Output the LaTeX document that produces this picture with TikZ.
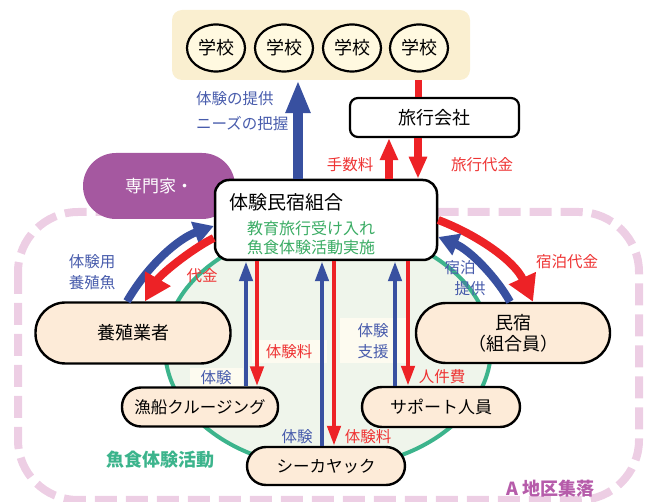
\documentclass[tikz,border=0pt]{standalone}
\usepackage{fontspec}
\setmainfont{Noto Sans CJK JP}
\usetikzlibrary{arrows.meta,shapes.geometric}
\definecolor{abl}{RGB}{56,80,160}
\definecolor{tbl}{RGB}{72,92,172}
\definecolor{ard}{RGB}{237,34,38}
\definecolor{trd}{RGB}{238,52,52}
\definecolor{tgr}{RGB}{58,172,100}
\definecolor{teal1}{RGB}{60,180,140}
\definecolor{ellfill}{RGB}{239,245,235}
\definecolor{peach}{RGB}{253,235,216}
\definecolor{purp}{RGB}{165,88,160}
\definecolor{pinkd}{RGB}{237,206,228}
\definecolor{schbg}{RGB}{250,239,208}
\definecolor{schfill}{RGB}{255,249,224}
\definecolor{apink}{RGB}{182,92,170}
\definecolor{labbg}{RGB}{253,251,240}
\tikzset{
  fA/.style={font=\fontsize{18}{21}\selectfont},
  fB/.style={font=\fontsize{16}{19}\selectfont},
  fC/.style={font=\fontsize{15.5}{21}\selectfont},
  stad/.style={draw=black, line width=2.4pt, fill=peach, inner sep=0pt},
  bluetxt/.style={fC, text=tbl, inner sep=1pt},
  redtxt/.style={fC, text=trd, inner sep=1pt},
  labbox/.style={fill=labbg, inner sep=3pt},
  vblue/.style={draw=abl, line width=4.5pt, -{Triangle[length=20pt,width=13pt]}},
  vred/.style={draw=ard, line width=4.5pt, -{Triangle[length=20pt,width=13pt]}},
  mred/.style={draw=ard, line width=8pt, -{Triangle[length=22pt,width=17pt]}},
  cblue/.style={draw=abl, line width=8pt, -{Triangle[length=20pt,width=22pt]}},
  cred/.style={draw=ard, line width=8pt, -{Triangle[length=26pt,width=28pt]}},
  school/.style={ellipse, draw=black, line width=2.2pt, fill=schfill, minimum width=58pt, minimum height=47pt, inner sep=0pt, fA}
}
\begin{document}
\begin{tikzpicture}[x=1pt,y=-1pt]
\useasboundingbox (0,0) rectangle (651,502);
% village area
\draw[pinkd, line width=8pt, dash pattern=on 22pt off 9pt, rounded corners=60pt] (18,212) rectangle (639,500);
% activity ellipse
\node[ellipse, draw=teal1, line width=4pt, fill=ellfill, minimum width=326pt, minimum height=240pt, inner sep=0pt] (ell) at (328,348) {};
\node[font=\fontsize{18}{21}\selectfont\bfseries, text=teal1] (elllab) at (160,460) {魚食体験活動};
\node[font=\fontsize{18}{21}\selectfont\bfseries, text=apink] (alab) at (550,489) {A 地区集落};
% label boxes inside ellipse
\node[labbox, redtxt, minimum width=75pt, minimum height=23pt] (l1) at (289,352) {体験料};
\node[labbox, bluetxt, minimum width=53pt, minimum height=20pt] (l2) at (216,378) {体験};
\node[labbox, bluetxt, align=center, minimum width=67pt, minimum height=45pt] (l3) at (373,341) {体験\\支援};
% schools
\node[fill=schbg, rounded corners=10pt, minimum width=298pt, minimum height=70pt, inner sep=0pt] (sbg) at (321,45) {};
\node[school] (s1) at (216,48) {学校};
\node[school] (s2) at (284,48) {学校};
\node[school] (s3) at (352,48) {学校};
\node[school] (s4) at (419,48) {学校};
% travel agency
\node[draw=black, line width=2.2pt, fill=white, rounded corners=8pt, minimum width=169pt, minimum height=39pt, fA] (ryoko) at (434.5,117.5) {旅行会社};
% expert
\node[fill=purp, rounded corners=33pt, minimum width=152pt, minimum height=66pt, text=white, font=\fontsize{17}{20}\selectfont] (senmon) at (159,186) {専門家・};
% activity nodes
\node[stad, rounded corners=30pt, minimum width=195pt, minimum height=61pt, fA] (yo) at (133,333) {養殖業者};
\node[stad, rounded corners=30pt, minimum width=194pt, minimum height=60pt, fA, align=center] (min) at (513,333) {民宿\\（組合員）};
\node[stad, rounded corners=19pt, minimum width=156pt, minimum height=39pt, font=\fontsize{16.5}{19}\selectfont] (gyo) at (200,407) {漁船クルージング};
\node[stad, rounded corners=20pt, minimum width=158pt, minimum height=40pt, font=\fontsize{17}{20}\selectfont] (sup) at (441,407) {サポート人員};
\node[stad, rounded corners=19pt, minimum width=158pt, minimum height=38pt, font=\fontsize{16.5}{19}\selectfont] (sea) at (326,466) {シーカヤック};
% central node
\node[draw=black, line width=2.5pt, fill=white, rounded corners=14pt, minimum width=222pt, minimum height=80pt, inner sep=0pt] (kum) at (326,220) {};
\node[anchor=west, font=\fontsize{19}{22}\selectfont, inner sep=0pt] (k1) at (229,202) {体験民宿組合};
\node[anchor=west, fB, text=tgr, inner sep=0pt] (k2) at (247,228) {教育旅行受け入れ};
\node[anchor=west, fB, text=tgr, inner sep=0pt] (k3) at (247,247) {魚食体験活動実施};
% vertical arrows
\draw[vblue] (gyo.north -| 246,0) -- (kum.south -| 246,0);
\draw[vred] (kum.south -| 257,0) -- (gyo.north -| 257,0);
\draw[vblue] (sea.north -| 322,0) -- (kum.south -| 322,0);
\draw[vred] (kum.south -| 334,0) -- (sea.north -| 334,0);
\draw[vblue] (sup.north -| 395,0) -- (kum.south -| 395,0);
\draw[vred] (kum.south -| 408,0) -- (sup.north -| 408,0);
% curved arrows
\draw[cblue] (yo.north -| 127,0) .. controls (150,262) and (180,238) .. (kum.west |- 0,226);
\draw[cred] (kum.west |- 0,238) .. controls (190,250) and (160,275) .. (yo.north -| 145,0);
\draw[cred] (kum.east |- 0,220) .. controls (480,236) and (515,262) .. (min.north -| 533,0);
\draw[cblue] (min.north -| 510,0) .. controls (497,278) and (470,250) .. (kum.east |- 0,237);
% upper arrows
\draw[draw=abl, line width=10pt, -{Triangle[length=33pt,width=23pt]}] (kum.north -| 298,0) -- (sbg.south -| 298,0);
\draw[draw=ard, line width=7pt] (sbg.south -| 418,0) -- (ryoko.north -| 418,0);
\draw[mred] (kum.north -| 389,0) -- (ryoko.south -| 389,0);
\draw[mred] (ryoko.south -| 418,0) -- (kum.north -| 418,0);
% labels
\node[bluetxt, anchor=west] (t1) at (195,99) {体験の提供};
\node[bluetxt, anchor=west] (t2) at (195,124) {ニーズの把握};
\node[redtxt] (t3) at (350,165) {手数料};
\node[redtxt] (t4) at (482,165) {旅行代金};
\node[bluetxt, align=center] (t5) at (92,272) {体験用\\養殖魚};
\node[redtxt] (t6) at (202,276) {代金};
\node[bluetxt] (t7) at (460,268) {宿泊};
\node[bluetxt] (t8) at (470,289) {提供};
\node[redtxt] (t9) at (567,262) {宿泊代金};
\node[bluetxt] (t10) at (297,437) {体験};
\node[redtxt] (t11) at (368,437) {体験料};
\node[redtxt] (t12) at (442,377) {人件費};
\end{tikzpicture}
\end{document}
